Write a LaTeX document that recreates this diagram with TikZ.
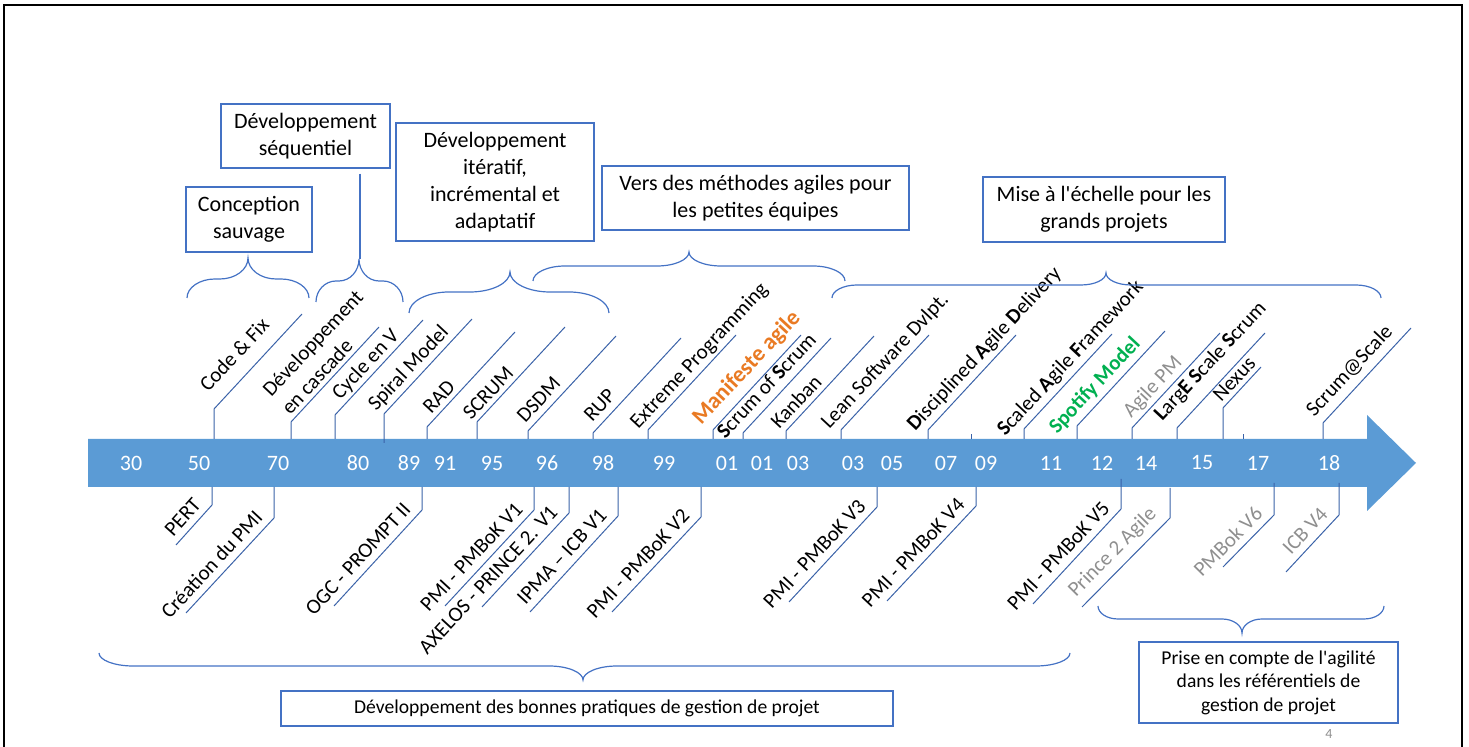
\documentclass[tikz,border=0pt]{standalone}
\usepackage{fontspec}
\setmainfont{Carlito}[Ligatures=TeXOff]
\usetikzlibrary{calc}

\definecolor{fleche}{HTML}{5B9BD5}
\definecolor{trait}{HTML}{3A62A8}
\definecolor{cadre}{HTML}{4472C4}
\definecolor{orangeMA}{HTML}{E97A23}
\definecolor{vertSM}{HTML}{00B050}
\definecolor{grisT}{HTML}{8F8F8F}

% accolade : x0, x pointe, x1, y bouts, y milieu, y pointe, rayon
\newcommand{\accolade}[7]{%
  \draw[draw=cadre, line width=0.6pt] (#1,#4) .. controls (#1,{#4+0.55*(#5-#4)}) and ({#1+0.45*#7},#5) .. ({#1+#7},#5)
    -- ({#2-#7},#5) .. controls ({#2-0.45*#7},#5) and (#2,{#5+0.45*(#6-#5)}) .. (#2,#6)
    .. controls (#2,{#5+0.45*(#6-#5)}) and ({#2+0.45*#7},#5) .. ({#2+#7},#5)
    -- ({#3-#7},#5) .. controls ({#3-0.45*#7},#5) and (#3,{#4+0.55*(#5-#4)}) .. (#3,#4);}

\begin{document}
\begin{tikzpicture}[x=0.5pt, y=-0.5pt,
  repere/.style={draw=trait, line width=0.5pt},
  lbl/.style={rotate=47, anchor=base west, inner sep=0pt, font=\fontsize{10.5}{13}\selectfont},
  bas/.style={sloped, pos=0, anchor=south east, font=\fontsize{10.5}{13}\selectfont},
  boite/.style={draw=cadre, line width=0.6pt, align=center, inner sep=0pt, font=\fontsize{11}{13.5}\selectfont},
  annee/.style={text=white, font=\fontsize{11}{13}\selectfont}]
\useasboundingbox (0,0) rectangle (1469,747);

% cadre de la diapo
\draw[line width=1.2pt] (4,747) -- (4,5) -- (1462,5) -- (1462,747);

% la fleche du temps
\fill[fleche] (88,439) -- (1367,439) -- (1367,415) -- (1416,463) -- (1367,511) -- (1367,487) -- (88,487) -- cycle;
\node[annee] (a30) at (131,463) {30};
\node[annee] (a50) at (199,463) {50};
\node[annee] (a70) at (278,463) {70};
\node[annee] (a80) at (358,463) {80};
\node[annee] (a89) at (409,463) {89};
\node[annee] (a91) at (445,463) {91};
\node[annee] (a95) at (492,463) {95};
\node[annee] (a96) at (547,463) {96};
\node[annee] (a98) at (603,463) {98};
\node[annee] (a99) at (664,463) {99};
\node[annee] (a01) at (727,463) {01};
\node[annee] (a01b) at (762,463) {01};
\node[annee] (a03) at (798,463) {03};
\node[annee] (a03b) at (853,463) {03};
\node[annee] (a05) at (892,463) {05};
\node[annee] (a07) at (946,463) {07};
\node[annee] (a09) at (986,463) {09};
\node[annee] (a11) at (1051,463) {11};
\node[annee] (a12) at (1102,463) {12};
\node[annee] (a14) at (1146,463) {14};
\node[annee] (a15) at (1202,463) {15};
\node[annee] (a17) at (1258,463) {17};
\node[annee] (a18) at (1329,463) {18};

% methodes (au-dessus)
\draw[repere] (214,439) -- (214,409) -- ++(88,-95);
\node[lbl] (m1) at (208,393) {Code \& Fix};
\draw[repere] (291,439) -- (291,422) -- ++(88,-95);
\node[lbl, align=left] (m2) at (290,416) {Développement\\en cascade};
\draw[repere] (335,439) -- (335,415) -- ++(88,-95);
\node[lbl] (m3) at (340,401) {Cycle en V};
\draw[repere] (384,443) -- (384,414) -- ++(88,-95);
\node[lbl] (m4) at (376,412) {Spiral Model};
\draw[repere] (427,439) -- (427,427) -- ++(88,-95);
\node[lbl] (m5) at (431,415) {RAD};
\draw[repere] (477,439) -- (477,422) -- ++(88,-95);
\node[lbl] (m6) at (471,421) {SCRUM};
\draw[repere] (528,439) -- (528,431) -- ++(88,-95);
\node[lbl] (m7) at (525,424) {DSDM};
\draw[repere] (593,439) -- (593,433) -- ++(88,-95);
\node[lbl] (m8) at (592,423) {RUP};
\draw[repere] (648,439) -- (648,430) -- ++(88,-95);
\node[lbl] (m9) at (638,430) {Extreme Programming};
\draw[repere] (713,439) -- (713,430) -- ++(88,-95);
\node[lbl, text=orangeMA, font=\fontsize{11.5}{14}\selectfont\bfseries] (m10) at (701,426) {Manifeste agile};
\draw[repere] (743,439) -- (743,433) -- ++(88,-95);
\node[lbl] (m11) at (725,440) {\textbf{S}crum of \textbf{S}crum};
\draw[repere] (786,439) -- (786,431) -- ++(88,-95);
\node[lbl] (m12) at (779,430) {Kanban};
\draw[repere] (841,439) -- (841,430) -- ++(88,-95);
\node[lbl] (m13) at (829,430) {Lean Software Dvlpt.};
\draw[repere] (928,439) -- (928,430) -- ++(88,-95);
\node[lbl] (m14) at (915,432) {\textbf{D}isciplined \textbf{A}gile \textbf{D}elivery};
\draw[repere] (971,439) -- (971,434);
\draw[repere] (1024,439) -- (1024,429) -- ++(88,-95);
\node[lbl] (m15) at (1005,437) {\textbf{S}caled \textbf{A}gile \textbf{F}ramework};
\draw[repere] (1077,439) -- (1077,426) -- ++(88,-95);
\node[lbl, text=vertSM, font=\fontsize{10.5}{13}\selectfont\bfseries] (m16) at (1057,435) {Spotify Model};
\draw[repere] (1132,439) -- (1132,428) -- ++(88,-95);
\node[lbl, text=grisT] (m17) at (1131,419) {Agile PM};
\draw[repere] (1177,439) -- (1177,428) -- ++(88,-95);
\node[lbl] (m18) at (1162,422) {\textbf{L}arg\textbf{E} \textbf{S}cale \textbf{S}crum};
\draw[repere] (1223,439) -- (1223,408) -- ++(38,-41);
\node[lbl] (m19) at (1221,403) {Nexus};
\draw[repere] (1243,439) -- (1243,434);
\draw[repere] (1323,439) -- (1323,423) -- ++(88,-95);
\node[lbl] (m20) at (1314,418) {Scrum@Scale};

% referentiels (en dessous)
\draw[repere] (212,487) -- (212,505) -- (176,545) node[bas] {PERT};
\draw[repere] (274,487) -- (274,518) -- (186,613) node[bas] {Création du PMI};
\draw[repere] (422,487) -- (422,510) -- (334,606) node[bas] {OGC - PROMPT II};
\draw[repere] (534,487) -- (534,510) -- (445,606) node[bas] {PMI - PMBoK V1};
\draw[repere] (569,487) -- (569,513) -- (482,607) node[bas] {AXELOS - PRINCE 2. V1};
\draw[repere] (618,487) -- (618,516) -- (530,612) node[bas] {IPMA – ICB V1};
\draw[repere] (701,487) -- (701,517) -- (612,612) node[bas] {PMI - PMBoK V2};
\draw[repere] (877,487) -- (877,507) -- (789,602) node[bas] {PMI - PMBoK V3};
\draw[repere] (976,487) -- (976,506) -- (887,601) node[bas] {PMI - PMBoK V4};
\draw[repere] (1121,479) -- (1121,509) -- (1033,604) node[bas] {PMI - PMBoK V5};
\draw[repere] (1170,488) -- (1170,518) -- (1082,607) node[bas, text=grisT] {Prince 2 Agile};
\draw[repere] (1274,483) -- (1274,515) -- (1223,567) node[bas, text=grisT] {PMBok V6};
\draw[repere] (1339,483) -- (1339,515) -- (1286,572) node[bas, text=grisT] {ICB V4};

% accolades et periodes
\accolade{187}{248}{309}{298}{279}{258}{28}
\accolade{316}{359}{403}{302}{281}{259}{20}
\accolade{409}{510}{609}{313}{292}{272}{40}
\accolade{533}{689}{845}{281}{266}{252}{32}
\accolade{832}{1106}{1381}{298}{285}{273}{25}
\accolade{99}{583}{1070}{653}{666}{680}{34}
\accolade{1098}{1242}{1384}{606}{619}{633}{20}

\node[boite, minimum width=63pt, minimum height=32.5pt] (cs) at (249,219.5) {Conception\\sauvage};
\node[boite, minimum width=84.5pt, minimum height=32pt] (ds) at (305.5,136) {Développement\\séquentiel};
\node[boite, minimum width=99pt, minimum height=59pt] (di) at (495,182) {Développement\\itératif,\\incrémental et\\adaptatif};
\node[boite, minimum width=153.5pt, minimum height=32pt] (vm) at (755.5,198) {Vers des méthodes agiles pour\\les petites équipes};
\node[boite, minimum width=121pt, minimum height=32.5pt] (me) at (1104,209.5) {Mise à l'échelle pour les\\grands projets};
\node[boite, minimum width=306pt, minimum height=17.5pt, font=\fontsize{9.8}{11}\selectfont] (dp) at (587,708.5) {Développement des bonnes pratiques de gestion de projet};
\node[boite, minimum width=129.5pt, minimum height=40.5pt, font=\fontsize{9.8}{11.8}\selectfont] (pc) at (1268.5,682.5) {Prise en compte de l'agilité\\dans les référentiels de\\gestion de projet};

\coordinate (pointeSeq) at (360,259);
\draw[draw=cadre, line width=0.6pt] ([yshift=-2.5pt]ds.south -| pointeSeq) -- (pointeSeq);

\node[text=grisT, font=\fontsize{7}{8}\selectfont] (num) at (1329,734) {4};
\end{tikzpicture}
\end{document}
